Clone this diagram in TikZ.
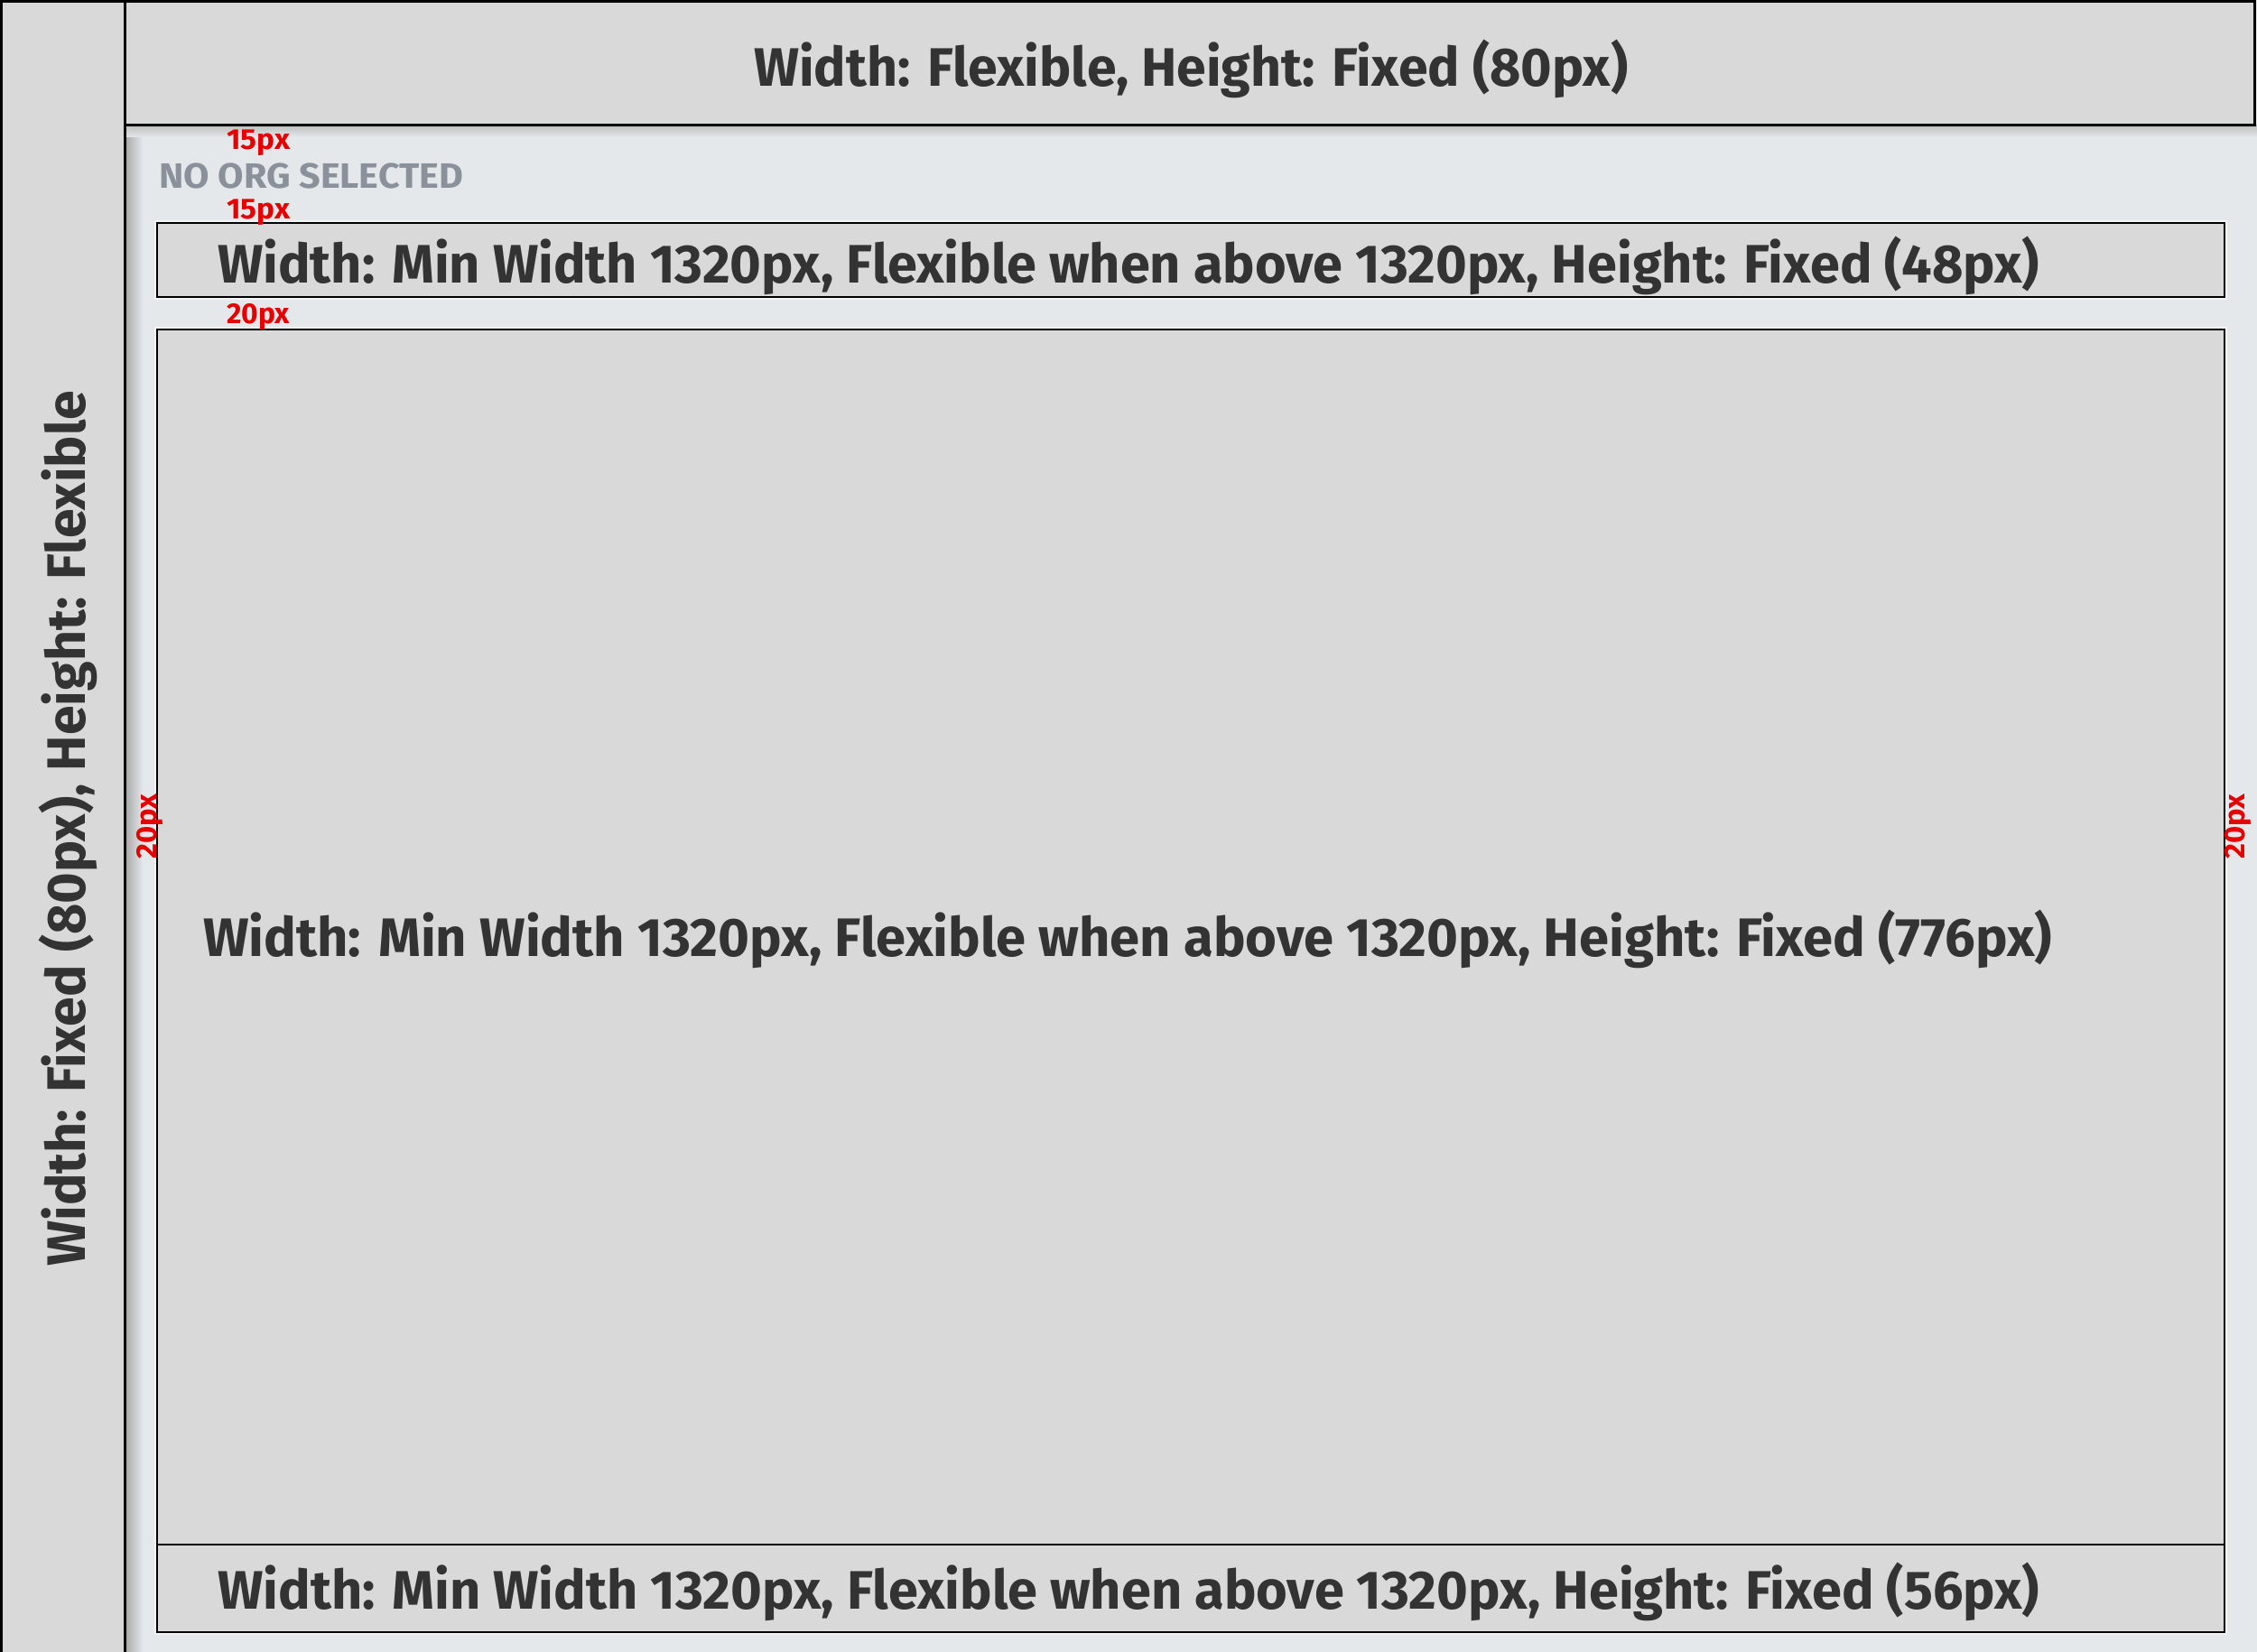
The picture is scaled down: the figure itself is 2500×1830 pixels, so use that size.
\documentclass[tikz,border=0pt]{standalone}
\usepackage{fontspec}
\usepackage{graphicx}
\setmainfont{Fira Sans}
\definecolor{bgc}{RGB}{228,232,235}
\definecolor{boxc}{RGB}{217,217,217}
\definecolor{txtc}{RGB}{51,51,51}
\definecolor{grayt}{RGB}{138,145,154}
\definecolor{redt}{RGB}{230,0,0}
\newsavebox\fitbox
\newcommand\fitw[2]{\sbox\fitbox{#2}\pgfmathsetmacro\fitsx{#1/\the\wd\fitbox}\scalebox{\fitsx}[1]{\usebox\fitbox}}
\tikzset{
  panel/.style={fill=boxc, draw=black, line width=2.5pt},
  halo/.style={draw=white!50!bgc, line width=6pt},
  bigtxt/.style={inner sep=0pt, anchor=base west, text=txtc, font=\bfseries\fontsize{60}{61}\selectfont},
  redlbl/.style={inner sep=0pt, anchor=base west, text=redt, font=\bfseries\fontsize{32}{34}\selectfont},
  graylbl/.style={inner sep=0pt, anchor=base west, text=grayt, font=\bfseries\fontsize{39}{40}\selectfont}
}
\begin{document}
\begin{tikzpicture}[x=1pt,y=-1pt]
\useasboundingbox (0,0) rectangle (2500,1830);
\fill[bgc] (0,0) rectangle (2500,1830);
% shadows
\shade[left color=black!35, right color=bgc] (138,139) rectangle (158,1830);
\shade[top color=black!25, bottom color=bgc] (138,139) rectangle (2500,152);
% sidebar and header
\draw[panel, line width=3pt] (1.5,1.5) rectangle (138,1834);
\draw[panel, line width=3pt] (138,1.5) rectangle (2497.5,139);
% content boxes
\draw[halo] (174,247) rectangle (2464,329);
\draw[halo] (174,365) rectangle (2464,1808);
\draw[panel] (174,247) rectangle (2464,329);
\draw[panel] (174,365) rectangle (2464,1711);
\draw[panel] (174,1711) rectangle (2464,1808);
% texts
\node[bigtxt] (hdr) at (835,96) {\fitw{968}{Width: Flexible, Height: Fixed (80px)}};
\node[bigtxt, rotate=90] (side) at (94,1403) {\fitw{970}{Width: Fixed (80px), Height: Flexible}};
\node[bigtxt] (bar) at (241,313) {\fitw{2018}{Width: Min Width 1320px, Flexible when above 1320px, Height: Fixed (48px)}};
\node[bigtxt] (main) at (225,1059) {\fitw{2048}{Width: Min Width 1320px, Flexible when above 1320px, Height: Fixed (776px)}};
\node[bigtxt] (foot) at (241,1782) {\fitw{2018}{Width: Min Width 1320px, Flexible when above 1320px, Height: Fixed (56px)}};
\node[graylbl] (noorg) at (176,208) {\fitw{337}{NO ORG SELECTED}};
\node[redlbl] (gapa) at (251,166) {\fitw{70}{15px}};
\node[redlbl] (gapb) at (251,242) {\fitw{70}{15px}};
\node[redlbl] (gapc) at (251,358) {\fitw{70}{20px}};
\node[redlbl, rotate=90] (gapl) at (173,952) {\fitw{72}{20px}};
\node[redlbl, rotate=90] (gapr) at (2486,952) {\fitw{72}{20px}};
\end{tikzpicture}
\end{document}
